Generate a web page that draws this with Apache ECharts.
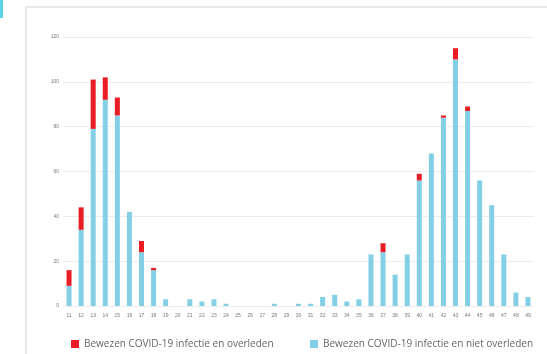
<!DOCTYPE html>
<html><head><meta charset="utf-8">
<script src="https://cdn.jsdelivr.net/npm/echarts@6/dist/echarts.min.js"></script>
<style>html,body{margin:0;padding:0;background:#fff}#c{width:547px;height:354px}</style>
</head><body><div id="c"></div>
<script>
const weeks = ['11','12','13','14','15','16','17','18','19','20','21','22','23','24','25','26','27','28','29','30','31','32','33','34','35','36','37','38','39','40','41','42','43','44','45','46','47','48','49'];
const nietOverleden = [9,34,79,92,85,42,24,16,3,0,3,2,3,1,0,0,0,1,0,1,1,4,5,2,3,23,24,14,23,56,68,84,110,87,56,45,23,6,4];
const overleden =     [7,10,22,10,8,0,5,1,0,0,0,0,0,0,0,0,0,0,0,0,0,0,0,0,0,0,4,0,0,3,0,1,5,2,0,0,0,0,0];
const yTicks = [0,20,40,60,80,100,120];
const nameRed = 'Bewezen COVID-19 infectie en overleden';
const nameBlue = 'Bewezen COVID-19 infectie en niet overleden';

const legendText = {color:'#666',fontSize:10,fontFamily:'Open Sans'};
const chart = echarts.init(document.getElementById('c'));
chart.setOption({
  animation:false,
  graphic:[
    {type:'rect',shape:{x:0,y:0,width:3,height:18},style:{fill:'#5fd3e6'}},
    {type:'rect',shape:{x:26,y:7,width:540,height:360},style:{fill:'none',stroke:'#e8e8e8',lineWidth:2}}
  ],
  grid:{left:63,right:13,top:37,bottom:48},
  legend:[
    {top:334,left:66,itemWidth:8,itemHeight:8,itemGap:5,icon:'rect',textStyle:legendText,data:[nameRed]},
    {top:334,left:305,itemWidth:8,itemHeight:8,itemGap:5,icon:'rect',textStyle:legendText,data:[nameBlue]}
  ],
  xAxis:{type:'category',data:weeks,
    axisLine:{show:false},axisTick:{show:false},
    axisLabel:{fontSize:5,color:'#777',margin:7,interval:0}},
  yAxis:{type:'value',min:0,max:120,interval:20,
    axisLabel:{fontSize:5,color:'#777',margin:4},
    splitLine:{lineStyle:{color:'#ececec',width:1}}},
  series:[
    {name:nameBlue,type:'bar',stack:'a',data:nietOverleden,barWidth:5,itemStyle:{color:'#83cfe6'}},
    {name:nameRed,type:'bar',stack:'a',data:overleden,barWidth:5,itemStyle:{color:'#ea1c24'}}
  ]
});
</script></body></html>
